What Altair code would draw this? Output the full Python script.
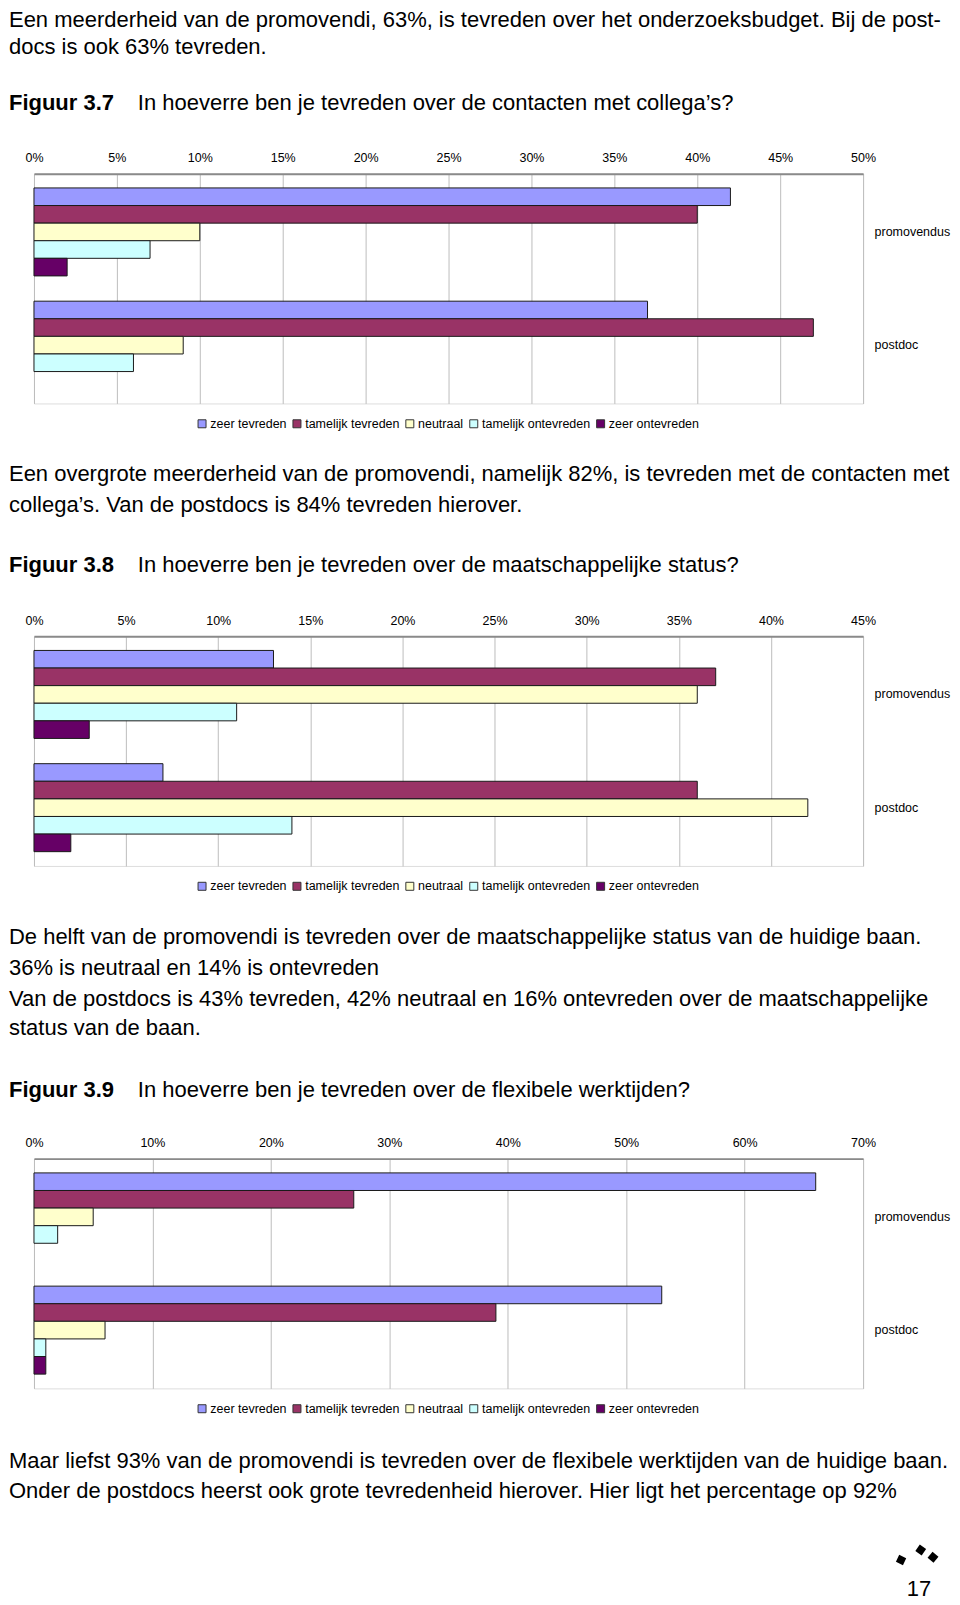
import altair as alt
import pandas as pd

# ---------------- data ----------------
categories = ["promovendus", "postdoc"]
answers = ["zeer tevreden", "tamelijk tevreden", "neutraal",
           "tamelijk ontevreden", "zeer ontevreden"]
answer_colors = ["#9999FF", "#993366", "#FFFFCC", "#CCFFFF", "#660066"]

fig37_promovendus = [42, 40, 10, 7, 2]
fig37_postdoc = [37, 47, 9, 6, 0]
fig38_promovendus = [13, 37, 36, 11, 3]
fig38_postdoc = [7, 36, 42, 14, 2]
fig39_promovendus = [66, 27, 5, 2, 0]
fig39_postdoc = [53, 39, 6, 1, 1]

fig37_ticks = [0, 5, 10, 15, 20, 25, 30, 35, 40, 45, 50]
fig38_ticks = [0, 5, 10, 15, 20, 25, 30, 35, 40, 45]
fig39_ticks = [0, 10, 20, 30, 40, 50, 60, 70]

para1 = ["Een meerderheid van de promovendi, 63%, is tevreden over het onderzoeksbudget. Bij de post-",
         "docs is ook 63% tevreden."]
fig37 = ["Figuur 3.7", "In hoeverre ben je tevreden over de contacten met collega\u2019s?"]
para2 = ["Een overgrote meerderheid van de promovendi, namelijk 82%, is tevreden met de contacten met",
         "collega\u2019s. Van de postdocs is 84% tevreden hierover."]
fig38 = ["Figuur 3.8", "In hoeverre ben je tevreden over de maatschappelijke status?"]
para3 = ["De helft van de promovendi is tevreden over de maatschappelijke status van de huidige baan.",
         "36% is neutraal en 14% is ontevreden",
         "Van de postdocs is 43% tevreden, 42% neutraal en 16% ontevreden over de maatschappelijke",
         "status van de baan."]
fig39 = ["Figuur 3.9", "In hoeverre ben je tevreden over de flexibele werktijden?"]
para4 = ["Maar liefst 93% van de promovendi is tevreden over de flexibele werktijden van de huidige baan.",
         "Onder de postdocs heerst ook grote tevredenheid hierover. Hier ligt het percentage op 92%"]
page_number = "17"

# ---------------- layout / style ----------------
FONT = "Liberation Sans"
BODY = 22
SMALL = 12.5
LEFT = -25          # page text starts 25px left of the plot origin
PAGE_W = 944 + LEFT
W = 830
H = 230
TOP = 30
BOT = 38
TITLE_X = 129 + LEFT


def bar_chart(prom, post, ticks):
    df = pd.DataFrame({
        "category": [categories[0]] * len(answers) + [categories[1]] * len(answers),
        "answer": answers * 2,
        "value": list(prom) + list(post),
    })
    bars = alt.Chart(df).transform_filter("datum.value > 0").mark_bar(
        stroke="#1a1a1a", strokeWidth=1
    ).encode(
        x=alt.X("value:Q",
                scale=alt.Scale(domain=[ticks[0], ticks[-1]], nice=False, zero=True),
                axis=alt.Axis(orient="top", values=ticks, labelExpr="datum.value + '%'",
                              grid=True, gridColor="#bdbdbd", gridWidth=1,
                              domain=True, domainColor="#8a8a8a", domainWidth=2,
                              ticks=False, tickSize=0, labelPadding=9,
                              labelFont=FONT, labelFontSize=SMALL, labelColor="#000",
                              labelFlush=False, labelOverlap=False, title=None)),
        y=alt.Y("category:N", sort=categories,
                scale=alt.Scale(domain=categories, paddingInner=0.223, paddingOuter=0.126),
                axis=alt.Axis(orient="right", ticks=False, tickSize=0, domain=False,
                              labelPadding=11, labelFont=FONT, labelFontSize=SMALL,
                              labelColor="#000", labelAlign="left", labelBaseline="middle",
                              title=None)),
        yOffset=alt.YOffset("answer:N", sort=answers,
                            scale=alt.Scale(domain=answers, paddingInner=0, paddingOuter=0)),
        color=alt.Color("answer:N",
                        scale=alt.Scale(domain=answers, range=answer_colors),
                        legend=alt.Legend(orient="none", legendX=162, legendY=244,
                                          direction="horizontal", title=None,
                                          symbolType="square", symbolSize=64,
                                          symbolStrokeColor="#333", symbolStrokeWidth=1,
                                          labelFont=FONT, labelFontSize=SMALL,
                                          labelColor="#000", labelOffset=2,
                                          columnPadding=4, padding=0)),
    )
    frame = alt.Chart(alt.Data(values=[{"k": 0}])).mark_rule(
        color="white", strokeWidth=1
    ).encode(x=alt.value(LEFT + 0.5), y=alt.value(-TOP), y2=alt.value(H + BOT))
    return alt.layer(bars, frame).properties(width=W, height=H)


def text_block(rows, height, extra=None):
    df = pd.DataFrame(rows, columns=["text", "px", "py", "bold"])
    base = alt.Chart(df)
    enc = dict(x=alt.X("px:Q", scale=None, axis=None),
               y=alt.Y("py:Q", scale=None, axis=None),
               text="text:N")
    normal = base.transform_filter("!datum.bold").mark_text(
        font=FONT, fontSize=BODY, align="left", baseline="middle", color="#000"
    ).encode(**enc)
    bold = base.transform_filter("datum.bold").mark_text(
        font=FONT, fontSize=BODY, align="left", baseline="middle", color="#000",
        fontWeight="bold"
    ).encode(**enc)
    layers = [normal, bold] + (extra or [])
    return alt.layer(*layers).properties(
        width=PAGE_W, height=height, view=alt.ViewBackground(stroke=None))


sec_a = text_block([
    (para1[0], LEFT, 11.5, False),
    (para1[1], LEFT, 38.5, False),
    (fig37[0], LEFT, 94.4, True),
    (fig37[1], TITLE_X, 94.4, False),
], 133.8)

sec_b = text_block([
    (para2[0], LEFT, 32.1, False),
    (para2[1], LEFT, 62.8, False),
    (fig38[0], LEFT, 123.2, True),
    (fig38[1], TITLE_X, 123.2, False),
], 162.2)

sec_c = text_block([
    (para3[0], LEFT, 32.5, False),
    (para3[1], LEFT, 63.2, False),
    (para3[2], LEFT, 93.9, False),
    (para3[3], LEFT, 123.5, False),
    (fig39[0], LEFT, 185.0, True),
    (fig39[1], TITLE_X, 185.0, False),
], 222.9)

pn = alt.Chart(alt.Data(values=[{"t": page_number}])).mark_text(
    font=FONT, fontSize=BODY, align="center", baseline="middle", color="#000"
).encode(x=alt.value(911 + LEFT), y=alt.value(161.5), text="t:N")
logo = alt.Chart(alt.Data(values=[
    {"lx": 893 + LEFT, "ly": 132.8, "a": 25},
    {"lx": 912.7 + LEFT, "ly": 122.8, "a": 35},
    {"lx": 925 + LEFT, "ly": 130.1, "a": 40},
])).mark_point(shape="square", filled=True, color="#000", size=60, opacity=1).encode(
    x=alt.X("lx:Q", scale=None, axis=None),
    y=alt.Y("ly:Q", scale=None, axis=None),
    angle=alt.Angle("a:Q", scale=None),
)
sec_d = text_block([
    (para4[0], LEFT, 34.1, False),
    (para4[1], LEFT, 64.1, False),
], 173.1, extra=[pn, logo])

c1 = bar_chart(fig37_promovendus, fig37_postdoc, fig37_ticks)
c2 = bar_chart(fig38_promovendus, fig38_postdoc, fig38_ticks)
c3 = bar_chart(fig39_promovendus, fig39_postdoc, fig39_ticks)

chart = alt.vconcat(sec_a, c1, sec_b, c2, sec_c, c3, sec_d, spacing=0).properties(
    padding=0
).resolve_scale(
    x="independent", y="independent", color="independent", yOffset="independent"
).resolve_legend(color="independent").resolve_axis(
    x="independent", y="independent"
).configure_view(stroke="#8a8a8a", strokeWidth=1).configure(background="white")

chart.save("out.html", embed_options={"renderer": "svg", "actions": False})
